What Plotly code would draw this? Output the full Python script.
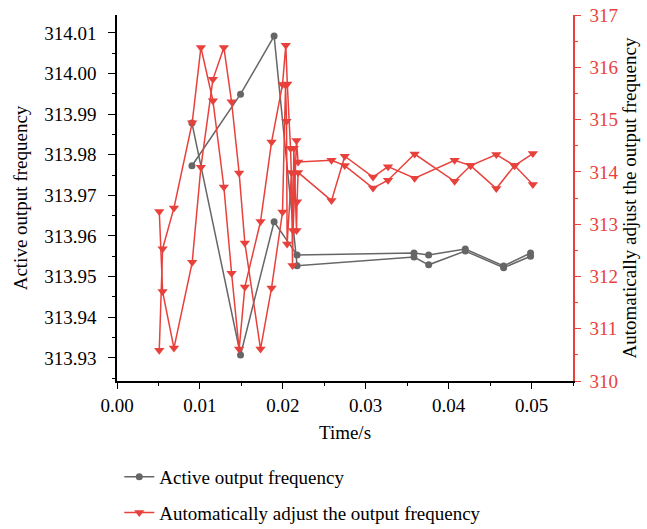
import plotly.graph_objects as go

# ---------------- data ----------------
# Active output frequency (two passes, drawn as separate polylines)
time_active_a = [0.00904, 0.0149, 0.01895, 0.02172, 0.03582, 0.03759, 0.04201, 0.04663, 0.04988]
active_a = [313.9773, 313.9949, 314.0092, 313.9527, 313.9548, 313.9529, 313.9563, 313.9522, 313.9550]
time_active_b = [0.00904, 0.0149, 0.01895, 0.02172, 0.03582, 0.03759, 0.04201, 0.04663, 0.04988]
active_b = [313.9878, 313.9307, 313.9635, 313.9553, 313.9558, 313.9553, 313.9568, 313.9526, 313.9558]

# Automatically adjust the output frequency (two passes)
time_auto_a = [0.0051, 0.0055, 0.00687, 0.00907, 0.01012, 0.01157, 0.01289, 0.01382, 0.01473,
               0.01542, 0.01731, 0.01864, 0.01996, 0.02036, 0.02054, 0.02093, 0.02124, 0.02165,
               0.02184, 0.02587, 0.02747, 0.03088, 0.03269, 0.0359, 0.04072, 0.04265, 0.04575,
               0.04795, 0.05016]
auto_a = [310.59, 312.53, 313.31, 314.94, 316.38, 315.36, 313.71, 312.06, 310.61,
          311.80, 313.05, 314.57, 315.67, 316.42, 315.68, 314.45, 312.88, 314.60,
          314.19, 314.22, 314.12, 313.69, 313.84, 314.34, 313.82, 314.12, 314.33,
          314.12, 314.35]
time_auto_b = [0.0051, 0.0055, 0.00687, 0.00907, 0.01012, 0.01157, 0.01289, 0.01382, 0.01473,
               0.01542, 0.01731, 0.01864, 0.01996, 0.02033, 0.02045, 0.02052, 0.02105, 0.02117,
               0.02133, 0.02165, 0.02172, 0.02184, 0.02587, 0.02747, 0.03088, 0.03269, 0.0359,
               0.04072, 0.04265, 0.04575, 0.04795, 0.05016]
auto_b = [313.24, 311.71, 310.63, 312.27, 314.09, 315.77, 316.38, 315.34, 313.98,
          312.64, 310.61, 311.78, 313.23, 315.66, 314.97, 312.62, 313.99, 312.21,
          314.45, 312.88, 313.43, 313.99, 313.45, 314.30, 313.90, 314.10, 313.88,
          314.22, 314.12, 313.68, 314.12, 313.76]

x_ticks = [0.00, 0.01, 0.02, 0.03, 0.04, 0.05]
left_ticks = [313.93, 313.94, 313.95, 313.96, 313.97, 313.98, 313.99, 314.00, 314.01]
right_ticks = [310, 311, 312, 313, 314, 315, 316, 317]

GREY = '#666666'
RED = '#E8413C'
FONT = 'Liberation Serif'

fig = go.Figure()
fig.add_trace(go.Scatter(
    x=time_active_a + [None] + time_active_b,
    y=active_a + [None] + active_b,
    mode='lines+markers', name='Active output frequency',
    line=dict(color=GREY, width=1.5),
    marker=dict(symbol='circle', size=7, color=GREY),
    connectgaps=False, yaxis='y', legendgroup='g1'))
fig.add_trace(go.Scatter(
    x=time_auto_a + [None] + time_auto_b,
    y=auto_a + [None] + auto_b,
    mode='lines+markers', name='Automatically adjust the output frequency',
    line=dict(color=RED, width=1.5),
    marker=dict(symbol='triangle-down', size=9, color=RED),
    connectgaps=False, yaxis='y2', legendgroup='g2'))

fig.update_layout(
    width=647, height=529,
    margin=dict(l=117, r=74, t=15, b=148, autoexpand=False),
    paper_bgcolor='white', plot_bgcolor='white',
    font=dict(family=FONT, size=19, color='black'),
    showlegend=True,
    legend=dict(x=0.005, y=1 - 458 / 529, xanchor='left', yanchor='top',
                yref='container',
                font=dict(family=FONT, size=19, color='black'),
                tracegroupgap=8, traceorder='grouped',
                bgcolor='rgba(0,0,0,0)'),
    xaxis=dict(range=[0, 0.055], tickvals=x_ticks, tickformat='.2f', automargin=False,
               ticks='outside', ticklen=6, tickwidth=1.2, tickcolor='black',
               minor=dict(dtick=0.005, tick0=0, ticks='outside', ticklen=3, tickcolor='black'),
               showline=True, linecolor='black', linewidth=1.5,
               showgrid=False, zeroline=False,
               title=dict(text='Time/s', standoff=11, font=dict(family=FONT, size=19)),
               tickfont=dict(family=FONT, size=19)),
    xaxis2=dict(range=[0, 0.055], overlaying='x', side='top', anchor='y', automargin=False,
                tickvals=x_ticks, showticklabels=False,
                ticks='inside', ticklen=6, tickwidth=1.2, tickcolor='black',
                minor=dict(dtick=0.005, tick0=0, ticks='inside', ticklen=3, tickcolor='black'),
                showline=True, linecolor='black', linewidth=1.5,
                showgrid=False, zeroline=False),
    yaxis=dict(range=[313.9243, 314.0144], tickvals=left_ticks, tickformat='.2f',
               automargin=False,
               ticks='outside', ticklen=7, tickwidth=1.2, tickcolor='black',
               ticklabelstandoff=8,
               minor=dict(dtick=0.005, tick0=313.93, ticks='outside', ticklen=3, tickcolor='black'),
               showline=True, linecolor='black', linewidth=1.5,
               showgrid=False, zeroline=False,
               title=dict(text='Active output frequency', standoff=12,
                          font=dict(family=FONT, size=19)),
               tickfont=dict(family=FONT, size=19)),
    yaxis2=dict(range=[310, 317], tickvals=right_ticks, overlaying='y', side='right',
                anchor='x', automargin=False,
                ticks='outside', ticklen=6, tickwidth=1.2, tickcolor=RED,
                ticklabelstandoff=5,
                minor=dict(dtick=0.5, tick0=310, ticks='outside', ticklen=3, tickcolor=RED),
                showline=True, linecolor=RED, linewidth=1.5,
                showgrid=False, zeroline=False,
                tickfont=dict(family=FONT, size=19, color=RED),
                title=dict(text='Automatically adjust the output frequency', standoff=2,
                           font=dict(family=FONT, size=19, color='black'))),
)

fig.write_html('out.html')
